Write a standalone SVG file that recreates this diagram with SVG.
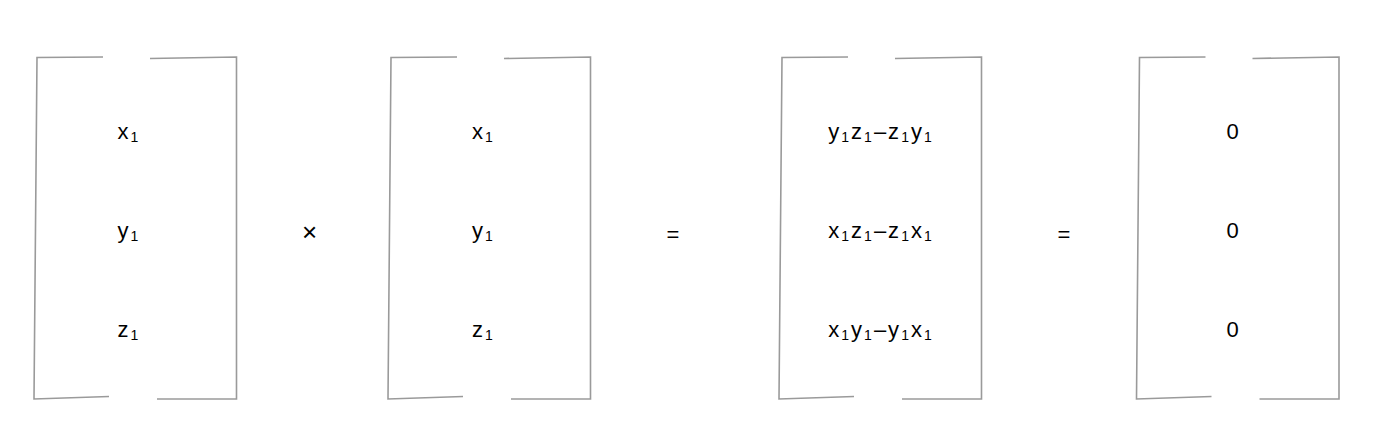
<svg xmlns="http://www.w3.org/2000/svg" xmlns:xlink="http://www.w3.org/1999/xlink" width="1378" height="440" viewBox="0 0 1378 440">
  <style>
    .br { fill: none; stroke: #9a9a9a; stroke-width: 1.6; stroke-linejoin: miter; }
    .t { font-family: "Liberation Sans", Arial, sans-serif; font-size: 22px; fill: #000; text-anchor: middle; letter-spacing: 2px; }
    .s { font-size: 14px; }
    .op { font-family: "Liberation Sans", Arial, sans-serif; font-size: 22px; fill: #000; text-anchor: middle; }
    .x { font-size: 26px; }
  </style>
  <defs>
    <g id="bracket">
      <path class="br" d="M103,57 L37,57.5 L34,399 L109,396.5"/>
      <path class="br" d="M150,58.5 L236.5,57 L236.5,399 L157,399"/>
    </g>
  </defs>
  <rect width="1378" height="440" fill="#ffffff"/>

  <g id="matrix-a">
    <use xlink:href="#bracket" href="#bracket"/>
    <text class="t" x="129" y="138.5">x<tspan class="s" dy="3">1</tspan></text>
    <text class="t" x="129" y="238">y<tspan class="s" dy="3">1</tspan></text>
    <text class="t" x="129" y="337">z<tspan class="s" dy="3">1</tspan></text>
  </g>

  <g id="op-cross">
    <text class="op x" x="309.5" y="241">×</text>
  </g>

  <g id="matrix-b">
    <use xlink:href="#bracket" href="#bracket" x="354"/>
    <text class="t" x="483.5" y="138.5">x<tspan class="s" dy="3">1</tspan></text>
    <text class="t" x="483.5" y="238">y<tspan class="s" dy="3">1</tspan></text>
    <text class="t" x="483.5" y="337">z<tspan class="s" dy="3">1</tspan></text>
  </g>

  <g id="op-eq1">
    <text class="op" x="673" y="242">=</text>
  </g>

  <g id="matrix-c">
    <use xlink:href="#bracket" href="#bracket" x="745"/>
    <text class="t" x="881" y="138.5">y<tspan class="s" dy="3">1</tspan><tspan dy="-3">z</tspan><tspan class="s" dy="3">1</tspan><tspan dy="-3">–z</tspan><tspan class="s" dy="3">1</tspan><tspan dy="-3">y</tspan><tspan class="s" dy="3">1</tspan></text>
    <text class="t" x="881" y="238">x<tspan class="s" dy="3">1</tspan><tspan dy="-3">z</tspan><tspan class="s" dy="3">1</tspan><tspan dy="-3">–z</tspan><tspan class="s" dy="3">1</tspan><tspan dy="-3">x</tspan><tspan class="s" dy="3">1</tspan></text>
    <text class="t" x="881" y="337">x<tspan class="s" dy="3">1</tspan><tspan dy="-3">y</tspan><tspan class="s" dy="3">1</tspan><tspan dy="-3">–y</tspan><tspan class="s" dy="3">1</tspan><tspan dy="-3">x</tspan><tspan class="s" dy="3">1</tspan></text>
  </g>

  <g id="op-eq2">
    <text class="op" x="1064" y="242">=</text>
  </g>

  <g id="matrix-d">
    <use xlink:href="#bracket" href="#bracket" x="1102.5"/>
    <text class="op" x="1232.5" y="138.5">0</text>
    <text class="op" x="1232.5" y="238">0</text>
    <text class="op" x="1232.5" y="337">0</text>
  </g>
</svg>
